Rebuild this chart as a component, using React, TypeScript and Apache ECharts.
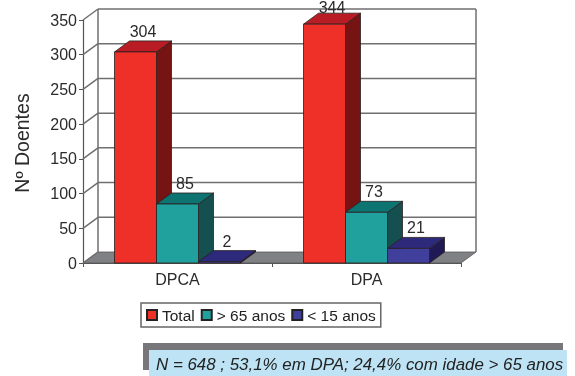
import React, { useEffect, useRef } from "react";
import * as echarts from "echarts";

const categories = ["DPCA", "DPA"];
const totalValues = [304, 344];
const olderValues = [85, 73];
const youngerValues = [2, 21];
const yTicks = [0, 50, 100, 150, 200, 250, 300, 350];
const noteText = "N = 648 ; 53,1% em DPA; 24,4% com idade > 65 anos";

const FONT = "Liberation Sans, Arial, sans-serif";
const DX = 15;
const DY = -11;
const BAR_W = 42;
const WALL = "#6f6f72";

const palettes = [
  { front: "#EF3029", top: "#B91C24", side: "#761313" },
  { front: "#20A19E", top: "#0E7472", side: "#154F4F" },
  { front: "#40409C", top: "#2E2A7B", side: "#1F1A55" },
];

function barSeries(name: string, values: number[], idx: number) {
  const p = palettes[idx];
  return {
    type: "custom",
    name,
    itemStyle: { color: p.front, borderColor: "#222", borderWidth: 1 },
    encode: { x: 0, y: 1 },
    data: values.map((v, i) => [i, v]),
    z: 5 + idx,
    renderItem: (_: any, api: any) => {
      const cat = api.value(0);
      const val = api.value(1);
      const [cx, yTop] = api.coord([cat, val]);
      const [, yBase] = api.coord([cat, 0]);
      const x0 = cx + (idx - 1.5) * BAR_W;
      const x1 = x0 + BAR_W;
      const border = { stroke: "#2a2020", lineWidth: 0.8 };
      return {
        type: "group",
        children: [
          {
            type: "polygon",
            shape: { points: [[x1, yBase], [x1 + DX, yBase + DY], [x1 + DX, yTop + DY], [x1, yTop]] },
            style: { fill: p.side, ...border },
          },
          {
            type: "polygon",
            shape: { points: [[x0, yTop], [x1, yTop], [x1 + DX, yTop + DY], [x0 + DX, yTop + DY]] },
            style: { fill: p.top, ...border },
          },
          {
            type: "rect",
            shape: { x: x0, y: yTop, width: BAR_W, height: yBase - yTop },
            style: { fill: p.front, ...border },
          },
          {
            type: "text",
            style: {
              text: String(val),
              x: x0 + BAR_W / 2 + 7.5,
              y: Math.max(yTop - 20.5, 7),
              fill: "#2b2b2b",
              font: `16px ${FONT}`,
              align: "center",
              verticalAlign: "middle",
            },
          },
        ],
      };
    },
  };
}

const wallSeries = {
  type: "custom",
  name: "walls",
  encode: { x: 0, y: 1 },
  data: yTicks.map((v) => [0, v]),
  z: 1,
  silent: true,
  renderItem: (params: any, api: any) => {
    const v = api.value(1);
    const sys = params.coordSys;
    const [, y] = api.coord([0, v]);
    const left = sys.x;
    const right = sys.x + sys.width;
    const line = { stroke: WALL, lineWidth: 1.5 };
    const children: any[] = [];
    if (v === 0) {
      children.push({
        type: "polygon",
        shape: { points: [[left, y], [right, y], [right + DX, y + DY], [left + DX, y + DY]] },
        style: { fill: "#808185", stroke: "#555", lineWidth: 0.8 },
      });
      children.push({
        type: "line",
        shape: { x1: left + DX, y1: y + DY, x2: left + DX, y2: sys.y + DY },
        style: line,
      });
      children.push({
        type: "line",
        shape: { x1: right + DX, y1: y + DY, x2: right + DX, y2: sys.y + DY },
        style: line,
      });
    } else {
      children.push({
        type: "line",
        shape: { x1: left + DX, y1: y + DY, x2: right + DX, y2: y + DY },
        style: line,
      });
    }
    children.push({
      type: "line",
      shape: { x1: left, y1: y, x2: left + DX, y2: y + DY },
      style: line,
    });
    return { type: "group", children };
  },
};

export default function App() {
  const ref = useRef<HTMLDivElement>(null);
  useEffect(() => {
    document.body.style.margin = "0";
    const chart = echarts.init(ref.current!, undefined, { renderer: "svg" });
    chart.setOption({
      animation: false,
      textStyle: { fontFamily: FONT },
      grid: { left: 83, right: 114, top: 20, bottom: 113, containLabel: false },
      xAxis: {
        type: "category",
        data: categories,
        axisLine: { lineStyle: { color: "#555", width: 1.2 } },
        axisTick: { show: true, length: 4, alignWithLabel: false, lineStyle: { color: "#555" } },
        axisLabel: { color: "#2b2b2b", fontSize: 16, fontFamily: FONT, margin: 8 },
      },
      yAxis: {
        type: "value",
        min: 0,
        max: 350,
        interval: 50,
        name: "Nº Doentes",
        nameLocation: "middle",
        nameGap: 51,
        nameTextStyle: { color: "#2b2b2b", fontSize: 19.5, fontFamily: FONT, padding: [0, 3, 0, 0] },
        axisLine: { show: true, lineStyle: { color: "#555", width: 1.2 } },
        axisTick: { show: true, length: 4, lineStyle: { color: "#555" } },
        axisLabel: { color: "#2b2b2b", fontSize: 16, fontFamily: FONT, margin: 6 },
        splitLine: { show: false },
      },
      legend: {
        left: 141,
        top: 303,
        icon: "rect",
        orient: "horizontal",
        data: ["Total", "> 65 anos", "< 15 anos"],
        itemWidth: 10,
        itemHeight: 10,
        itemGap: 6,
        padding: [4, 5, 4, 5],
        borderColor: "#666",
        borderWidth: 1.5,
        backgroundColor: "#fff",
        selectedMode: false,
        textStyle: { color: "#222", fontSize: 15.5, fontFamily: FONT },
      },
      graphic: [
        { type: "rect", shape: { x: 143, y: 343, width: 420, height: 27 }, style: { fill: "#77777b" }, z: 1 },
        { type: "rect", shape: { x: 149, y: 350, width: 418, height: 26 }, style: { fill: "#BDE3F5" }, z: 2 },
        {
          type: "text",
          x: 156,
          y: 364,
          z: 3,
          style: {
            text: noteText,
            fill: "#222",
            font: `italic 16.9px ${FONT}`,
            align: "left",
            verticalAlign: "middle",
          },
        },
      ],
      series: [
        wallSeries,
        barSeries("Total", totalValues, 0),
        barSeries("> 65 anos", olderValues, 1),
        barSeries("< 15 anos", youngerValues, 2),
      ],
    });
    return () => chart.dispose();
  }, []);
  return <div ref={ref} style={{ width: 575, height: 376, filter: "blur(0.5px)" }} />;
}
